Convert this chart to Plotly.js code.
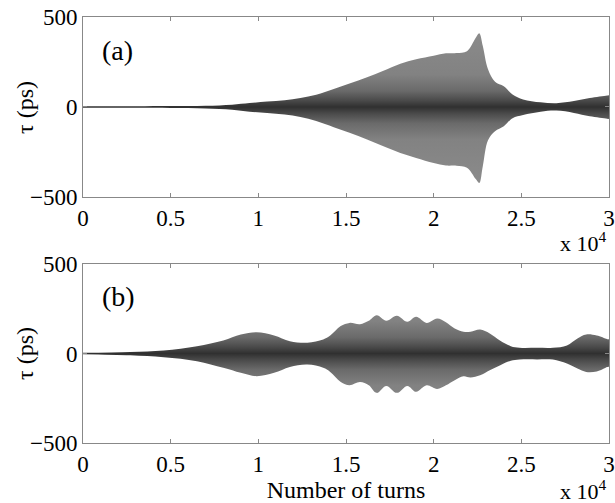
<!DOCTYPE html>
<html>
<head>
<meta charset="utf-8">
<script src="https://cdn.plot.ly/plotly-3.0.1.min.js"></script>
<style>html,body{margin:0;padding:0;background:#fff}#chart{width:615px;height:503px}</style>
</head>
<body>
<div id="chart"></div>
<script>
// Number of turns (in units of 10^4) and envelope of tau (ps), panel (a)
const turnsA = [0, 0.3, 0.5, 0.7, 0.85, 0.95, 1.05, 1.15, 1.24, 1.33, 1.43, 1.52, 1.62, 1.71, 1.81, 1.90, 2.00, 2.07, 2.13, 2.19, 2.24, 2.26, 2.28, 2.31, 2.35, 2.40, 2.45, 2.51, 2.61, 2.70, 2.80, 2.89, 2.99, 3.00];
const upperA = [4, 4, 5, 7, 13, 22, 30, 38, 50, 68, 100, 130, 165, 200, 240, 265, 285, 298, 300, 310, 385, 410, 340, 210, 140, 115, 70, 42, 26, 21, 33, 50, 64, 65];
const lowerA = [-4, -4, -5, -8, -15, -26, -34, -42, -55, -78, -112, -143, -180, -217, -255, -283, -311, -325, -326, -337, -400, -422, -330, -185, -135, -107, -62, -44, -26, -20, -33, -52, -65, -66];

// panel (b)
const turnsB = [0, 0.27, 0.46, 0.65, 0.80, 0.90, 0.99, 1.09, 1.18, 1.28, 1.37, 1.41, 1.47, 1.52, 1.58, 1.63, 1.675, 1.73, 1.79, 1.85, 1.90, 1.96, 2.02, 2.07, 2.12, 2.17, 2.21, 2.265, 2.32, 2.38, 2.44, 2.49, 2.59, 2.68, 2.76, 2.82, 2.87, 2.93, 2.99, 3.00];
const upperB = [4, 9, 17, 41, 73, 106, 119, 101, 69, 60, 78, 100, 153, 171, 164, 183, 214, 183, 211, 177, 205, 171, 196, 175, 140, 121, 121, 134, 112, 71, 41, 32, 32, 32, 45, 84, 106, 100, 80, 78];
const lowerB = [-4, -10, -21, -43, -80, -108, -127, -108, -75, -62, -80, -103, -159, -177, -159, -177, -220, -181, -220, -181, -214, -178, -198, -178, -149, -127, -134, -121, -93, -65, -41, -34, -33, -34, -56, -84, -103, -100, -75, -72];

const xTickVals = [0, 0.5, 1, 1.5, 2, 2.5, 3];
const xTickText = ['0', '0.5', '1', '1.5', '2', '2.5', '3'];
const yTickVals = [-500, 0, 500];
const yTickText = ['\u2212500', '0', '500'];

function envelope(xs, up, lo, xa, ya) {
  const x = xs.map(v => v * 1e4).concat(xs.slice().reverse().map(v => v * 1e4));
  const y = up.concat(lo.slice().reverse());
  return {
    type: 'scatter', mode: 'lines', x: x, y: y, xaxis: xa, yaxis: ya,
    fill: 'toself', line: {width: 0, shape: 'spline', smoothing: 1, color: '#777'},
    fillcolor: '#888',
    fillgradient: {
      type: 'vertical', start: -450, stop: 450,
      colorscale: [[0, '#8c8c8c'], [0.3, '#828282'], [0.4, '#6a6a6a'], [0.46, '#4a4a4a'], [0.5, '#303030'], [0.54, '#4a4a4a'], [0.6, '#6a6a6a'], [0.7, '#828282'], [1, '#8c8c8c']]
    },
    hoverinfo: 'skip', showlegend: false
  };
}

const serif = 'Liberation Serif, Times New Roman, serif';
const axCommon = {
  showline: true, mirror: 'ticks', linecolor: '#888', linewidth: 1,
  ticks: 'inside', ticklen: 4, tickcolor: '#888', tickwidth: 1,
  showgrid: false, zeroline: false,
  tickfont: {family: serif, size: 23, color: '#000'}
};
const xax = Object.assign({}, axCommon, {range: [0, 30000], tickmode: 'array', tickvals: xTickVals.map(v => v * 1e4), ticktext: xTickText, ticklabelstandoff: 0});
const yax = Object.assign({}, axCommon, {range: [-500, 500], tickmode: 'array', tickvals: yTickVals, ticktext: yTickText, ticklabelstandoff: 0});

const titleFont = {family: serif, size: 24, color: '#000'};
const layout = {
  width: 615, height: 503,
  margin: {l: 83, r: 6, t: 17, b: 60},
  paper_bgcolor: '#fff', plot_bgcolor: '#fff',
  showlegend: false,
  font: {family: serif, color: '#000'},
  xaxis: Object.assign({}, xax, {domain: [0, 1], anchor: 'y'}),
  yaxis: Object.assign({}, yax, {domain: [0.5775, 1], anchor: 'x'}),
  xaxis2: Object.assign({}, xax, {domain: [0, 1], anchor: 'y2', title: {text: 'Number of turns', font: titleFont, standoff: 1}}),
  yaxis2: Object.assign({}, yax, {domain: [0, 0.4202], anchor: 'x2'}),
  annotations: [
    {text: '\u03c4 (ps)', xref: 'paper', yref: 'paper', x: -0.1103, y: 0.7887, xanchor: 'center', yanchor: 'middle', textangle: -90, showarrow: false, font: titleFont},
    {text: '\u03c4 (ps)', xref: 'paper', yref: 'paper', x: -0.1103, y: 0.2113, xanchor: 'center', yanchor: 'middle', textangle: -90, showarrow: false, font: titleFont},
    {text: '(a)', xref: 'paper', yref: 'paper', x: 0.032, y: 0.922, xanchor: 'left', yanchor: 'middle', showarrow: false, font: {family: serif, size: 28}},
    {text: '(b)', xref: 'paper', yref: 'paper', x: 0.032, y: 0.345, xanchor: 'left', yanchor: 'middle', showarrow: false, font: {family: serif, size: 28}},
    {text: 'x 10<sup>4</sup>', xref: 'paper', yref: 'paper', x: 1, y: 0.5775, xanchor: 'right', yanchor: 'top', yshift: -29, showarrow: false, font: {family: serif, size: 22}},
    {text: 'x 10<sup>4</sup>', xref: 'paper', yref: 'paper', x: 1, y: 0, xanchor: 'right', yanchor: 'top', yshift: -31, showarrow: false, font: {family: serif, size: 22}}
  ]
};

Plotly.newPlot('chart', [
  envelope(turnsA, upperA, lowerA, 'x', 'y'),
  envelope(turnsB, upperB, lowerB, 'x2', 'y2')
], layout, {displayModeBar: false, staticPlot: true});
</script>
</body>
</html>
